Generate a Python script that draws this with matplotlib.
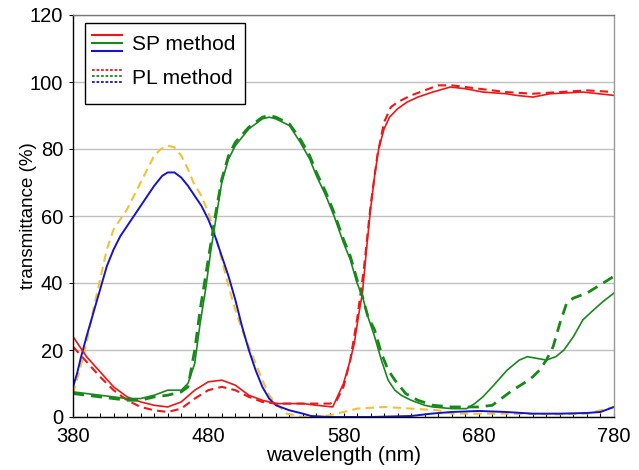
import matplotlib.pyplot as plt
from matplotlib.lines import Line2D
from matplotlib.patches import Rectangle

# SP method (solid)
sp_red_wl = [380, 390, 400, 410, 420, 430, 440, 450, 460, 470, 480, 490, 500, 510, 520, 530, 540, 550, 560, 572,
             580, 585, 588, 591, 594, 597, 600, 603, 606, 610, 614, 620, 627, 635, 646, 659, 670, 683, 700, 708,
             720, 733, 757, 780]
sp_red = [24, 18, 13.5, 9, 6, 4.5, 3.5, 3, 4.5, 8, 10.5, 11, 9.5, 6.5, 5, 4, 4, 4, 3.5, 3,
          10, 17, 22, 30, 37, 50, 62, 72, 80, 86, 89.5, 92, 94, 95.5, 97, 98.5, 98, 97, 96.5, 96,
          95.5, 96.5, 97, 96]

sp_green_wl = [380, 390, 400, 410, 420, 430, 440, 450, 460, 465, 470, 474, 478, 482, 486, 490, 495, 500, 510, 520,
               525, 530, 540, 548, 555, 560, 567, 573, 580, 585, 590, 594, 598, 603, 608, 613, 618, 623, 630, 640,
               646, 660, 671, 677, 683, 690, 701, 710, 716, 723, 730, 737, 743, 750, 757, 765, 772, 780]
sp_green = [7.5, 7, 6.5, 6, 5.5, 5.5, 6.5, 8, 8, 10, 16, 28, 38, 50, 60, 70, 77, 81, 86, 89,
            89.5, 89, 87, 82, 77, 72, 66, 60, 52, 47, 40, 36, 30, 24, 17, 11, 8, 6.4, 5, 3.5,
            3, 2.5, 2.5, 4, 6, 9, 14, 17, 18, 17.5, 17, 18, 20, 24, 29, 32, 34.5, 37]

sp_blue_wl = [380, 383, 386, 390, 395, 400, 405, 410, 415, 420, 430, 440, 446, 450, 455, 460, 465, 470, 475, 480,
              485, 490, 495, 500, 505, 510, 515, 520, 525, 530, 540, 550, 556, 570, 600, 630, 645, 660, 680, 700,
              720, 740, 760, 770, 780]
sp_blue = [9, 13, 18, 24, 31, 38, 45, 50, 54, 57, 63, 69, 72, 73, 73, 71.5, 69, 66, 63, 59,
           54, 48, 42, 35, 27, 20, 14, 9, 5.5, 3.5, 2, 1, 0.3, 0, 0, 0.3, 1, 1.5, 1.8, 1.5,
           1, 1, 1.2, 1.5, 3]

# PL method (dashed)
pl_red_wl = [380, 390, 400, 410, 420, 430, 440, 450, 460, 470, 480, 490, 500, 510, 520, 530, 540, 550, 560, 570,
             575, 580, 585, 590, 595, 600, 605, 610, 615, 620, 630, 640, 650, 660, 670, 680, 700, 720, 740, 760, 780]
pl_red = [21, 16.5, 12, 8, 5, 3, 2, 1.5, 2.5, 5.5, 8, 9, 8, 6, 4.5, 4, 4, 4, 4, 4,
          5, 9, 17, 29, 44, 63, 78, 88, 92.5, 94, 96, 97.5, 99, 99, 98.5, 98, 97, 96.5, 97, 97.5, 97]

pl_green_wl = [380, 390, 400, 410, 420, 430, 440, 450, 460, 465, 470, 474, 478, 482, 486, 490, 495, 500, 510, 520,
               525, 530, 540, 548, 555, 560, 567, 573, 580, 585, 590, 594, 598, 603, 608, 613, 618, 626, 635, 646,
               660, 671, 680, 690, 695, 705, 713, 720, 725, 730, 735, 740, 745, 750, 760, 770, 780]
pl_green = [7, 6.5, 6, 5.5, 5, 5, 6, 6.5, 7.5, 9, 20, 32, 42, 52, 62, 71, 78, 82, 86.5, 89.5,
            90, 89.5, 87.5, 83, 78, 73, 67, 61, 53, 48, 41, 36, 30, 26, 19, 14, 11, 7, 5, 3.5,
            3, 3, 3, 3.5, 5, 8, 10, 12, 14, 17, 21, 28, 34, 35.5, 37, 39.5, 42]

pl_blue_wl = [380, 385, 390, 395, 400, 405, 410, 415, 420, 425, 430, 435, 440, 445, 450, 455, 460, 465, 469, 475,
              480, 485, 490, 495, 500, 505, 510, 515, 520, 525, 530, 538, 550, 560, 570, 580, 590, 610, 630, 650,
              660, 700, 740, 760, 770, 780]
pl_blue = [7, 14, 22, 32, 41, 50, 56, 59, 62, 66, 70, 74, 78, 80, 81, 80.5, 78, 74, 70, 66,
           61, 55, 47, 39, 32, 26, 21, 16, 11, 6.5, 4, 1, 0, 0, 0.5, 1.5, 2.5, 3, 2.5, 2,
           1, 1, 0.8, 1, 2, 3]

RED = '#ee1616'
GREEN = '#18881a'
BLUE = '#1414cc'
YELLOW = '#f2c232'

plt.rcParams['font.family'] = ['Liberation Sans', 'DejaVu Sans']

fig = plt.figure(figsize=(6.39, 4.70), dpi=100)
ax = fig.add_axes([73 / 639, 53 / 470, 541 / 639, 402 / 470])

ax.plot(pl_blue_wl, pl_blue, color=YELLOW, lw=1.5, dashes=(4, 2.5))
ax.plot(sp_blue_wl, sp_blue, color=BLUE, lw=1.4)
ax.plot(pl_red_wl, pl_red, color=RED, lw=1.5, dashes=(4, 2.5))
ax.plot(sp_red_wl, sp_red, color=RED, lw=1.2)
ax.plot(pl_green_wl, pl_green, color=GREEN, lw=2.0, dashes=(4, 2.5))
ax.plot(sp_green_wl, sp_green, color=GREEN, lw=1.2)

ax.set_xlim(380, 780)
ax.set_ylim(0, 120)
ax.set_xticks(range(380, 781, 100))
ax.set_xticks(range(380, 781, 10), minor=True)
ax.set_yticks(range(0, 121, 20))
ax.tick_params(axis='x', which='both', direction='in', length=3, width=0.8, labelsize=14.5, pad=7)
ax.tick_params(axis='y', direction='out', length=3, width=0.8, labelsize=14.5, pad=4)
ax.yaxis.grid(True, color='#c0c0c0', lw=1.0)
ax.set_axisbelow(True)

ax.spines['left'].set_color('black')
ax.spines['bottom'].set_color('black')
ax.spines['top'].set_color('#777777')
ax.spines['right'].set_color('#999999')
for s in ax.spines.values():
    s.set_linewidth(1.0)

ax.set_xlabel('wavelength (nm)', fontsize=15, labelpad=0)
ax.set_ylabel('transmittance (%)', fontsize=13.5, labelpad=-5)

# legend box drawn by hand (three colours per entry)
lx0, lx1 = (85 - 73) / 541, (245 - 73) / 541
ly0, ly1 = (417 - 104) / 402, (417 - 23) / 402
ax.add_patch(Rectangle((lx0, ly0), lx1 - lx0, ly1 - ly0, transform=ax.transAxes,
                       facecolor='white', edgecolor='black', lw=1.0, zorder=5))
hx = [(92 - 73) / 541, (122 - 73) / 541]
for c, py in zip([RED, GREEN, BLUE], [35, 43, 51]):
    yy = (417 - py) / 402
    ax.add_line(Line2D(hx, [yy, yy], transform=ax.transAxes, color=c, lw=1.5, zorder=6))
for c, py in zip([RED, GREEN, BLUE], [70, 76, 82]):
    yy = (417 - py) / 402
    ax.add_line(Line2D(hx, [yy, yy], transform=ax.transAxes, color=c, lw=1.3,
                       dashes=(1.5, 1), zorder=6))
ax.text((132 - 73) / 541, (417 - 45) / 402, 'SP method', transform=ax.transAxes,
        fontsize=15, va='center', ha='left', zorder=7)
ax.text((132 - 73) / 541, (417 - 78) / 402, 'PL method', transform=ax.transAxes,
        fontsize=15, va='center', ha='left', zorder=7)

fig.savefig('out.png', dpi=100)
